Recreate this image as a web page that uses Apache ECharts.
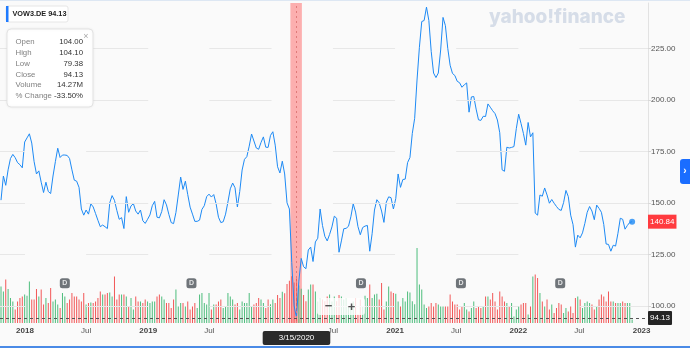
<!DOCTYPE html>
<html><head><meta charset="utf-8">
<script src="https://cdn.jsdelivr.net/npm/echarts@6/dist/echarts.min.js"></script>
<style>html,body{margin:0;padding:0;background:#fafafa;}#c{width:690px;height:348px;}</style>
</head><body><div id="c"></div>
<script>
// ---- DATA ----
const startWeek = '2017-10-22';   // weekly closes, one value per week
const closes = [151.3,163,158.5,166,171.5,173.5,171.9,169.5,168.5,167,
179.5,181.5,183.5,179,170,164,165.5,160,155,160,
155.5,154.5,163,170,176.5,172,173.2,173.2,173,171.5,
166,161,160.5,157.5,147,144,146.5,144.5,149.5,148,
144.8,141.5,138.4,139.2,138.4,137.5,150,153.5,151.2,146.3,
142,142.8,137.5,153,145.4,148.5,149.6,146,144.5,146.5,
141.3,140,142,144.1,148.6,150.7,143,142.7,145.8,151.5,
149,144.4,140.4,139.9,145.3,153.8,162.5,156.5,160.5,154,
147.9,144.5,141,141,141.6,146.8,148.6,153,154.2,152.8,
154,149.5,143,140.4,140.8,144.5,150.4,156.8,159.6,157.3,
148,155.5,165.9,171.1,172.4,177.5,183.4,180,176.6,176,
179.3,182,177,176.9,182.7,184.5,178,167.5,164.5,170.2,
164,150,147,121,100,94.13,112,123,119,118,
127.1,128.5,121.5,131,132.8,147,139,133.7,131.5,134.6,
138.3,143.5,142.5,126,131.5,137.4,137.6,138.6,143.2,149.5,
145.5,138.5,134.5,138,138.7,139,126.5,135,146.5,151.5,
150,146,140.5,150.3,152.9,152.5,147,152,164,157.5,
161.3,161.5,169.5,172,183.7,191,209.6,225.5,238,238.5,
245,238.5,223.5,213,210.8,213,224.2,240,236,225,
216.8,212.8,211.8,209,208.3,206.1,207.3,208.2,194,201.4,
201.6,195.5,190.3,190,192,191.9,198,196.4,194.7,193.3,
190.2,184,166,165.3,177,176.6,176.9,177.3,186,193,
188.5,183.7,178,189,182,184,145,144,153.8,153.2,
157.2,153.8,149.8,151.6,149.8,148.2,146.8,146.3,150.1,156,
153,144,139.4,128.5,134.3,133,135.4,140,145.4,148.2,
146,141.8,148.9,147.3,145.4,139.5,130,129.8,126.5,129.4,
129,135.2,142.5,142,137.2,139,140.5,140.84];
// weekly volume, millions
const volumes = [11.7,10.1,13.9,10.9,8.0,6.9,4.3,6.9,8.0,8.5,
9.1,8.7,13.3,7.5,7.5,10.9,8.5,10.7,5.9,8.0,
6.4,11.2,6.9,7.5,5.9,4.8,9.6,8.5,6.4,7.5,
9.6,8.5,8.5,7.5,6.9,9.6,5.9,6.4,6.6,6.4,
6.9,8.0,10.1,9.1,9.1,9.6,9.8,8.5,14.9,7.5,
9.1,9.1,9.1,8.5,5.3,8.0,4.3,8.5,6.9,6.9,
6.4,7.5,6.9,6.4,6.9,6.9,8.5,9.1,8.5,7.5,
6.4,6.4,4.8,7.5,10.7,5.3,6.4,6.4,5.3,6.9,
4.3,5.3,6.4,4.8,9.1,9.6,6.4,5.9,9.6,4.3,
5.9,5.9,6.9,7.5,4.8,5.3,9.6,8.5,7.5,5.9,
6.4,4.3,6.9,6.4,6.4,9.6,5.3,5.9,6.4,8.0,
7.5,6.4,4.8,7.5,
6.0,7.5,6.4,9.0,8.0,10.0,9.5,12.5,13.5,15.0,13.0,14.27,12.0,11.0,
9.0,7.0,10.7,12.3,12.3,10.1,6.9,8.0,7.5,7.0,8.5,9.1,6.9,8.5,7.0,9.0,
8.5,7.5,8.0,5.3,5.3,6.9,8.0,2.7,7.5,5.3,
8.7,8.0,12.3,8.0,9.1,9.4,7.5,12.8,4.3,6.9,
11.7,10.1,9.6,9.4,6.9,5.3,8.0,6.9,10.1,9.8,7.0,6.0,
24,12.3,10.7,5.9,4.8,5.3,6.4,5.3,6.4,
5.9,5.3,5.3,5.3,5.3,9.1,6.9,5.9,5.9,
4.3,5.3,6.4,4.3,3.7,4.8,6.9,4.8,5.3,4.8,
5.3,8.5,8.5,7.5,9.6,6.9,4.3,10.1,8.5,6.9,
6.4,5.3,6.4,2.1,4.3,5.3,5.9,6.4,6.4,2.7,
5.3,14.9,15.5,14.4,9.6,6.9,5.3,7.5,4.3,5.9,
3.2,4.8,6.4,5.9,3.2,4.8,3.7,5.3,3.2,8.0,
8.5,7.5,4.8,6.4,6.9,6.4,5.9,4.3,5.3,7.5,
9.1,8.5,6.9,10.1,6.9,6.9,6.4,6.4,6.4,6.9,
6.4,6.4,6.4,1.1];
const yTicks = [100,125,150,175,200,225];
const xLabelDates = ['2018-01-01','2018-07-01','2019-01-01','2019-07-01','2020-01-01','2020-07-01',
  '2021-01-01','2021-07-01','2022-01-01','2022-07-01','2023-01-01'];
const gridVisibleRanges = [['2017-10-19','2018-01-01'],['2018-07-01','2019-01-01'],['2019-07-01','2020-01-01'],
  ['2020-07-01','2021-01-01'],['2021-07-01','2022-01-01'],['2022-07-01','2023-01-20']];
const dividendDates = ['2018-04-29','2019-05-09','2020-09-22','2021-07-15','2022-05-05'];
const hoverDate = '2020-03-15';
const hoverLabel = '3/15/2020';
const hoverBand = ['2020-02-26','2020-03-31'];
const hoverClose = 94.13;
const lastClose = 140.84;
const symbolName = 'VOW3.DE';
const tooltipRows = [['Open','104.00'],['High','104.10'],['Low','79.38'],['Close','94.13'],['Volume','14.27M'],['% Change','-33.50%']];
const xRange = ['2017-10-19','2023-01-20'];

// ---- BUILD ----
const DAY = 864e5;
const ts = s => { const p = s.split('-').map(Number); return Date.UTC(p[0], p[1]-1, p[2]); };
const t0 = ts(startWeek);
const hoverTs = ts(hoverDate);
const dates = closes.map((_, i) => t0 + i * 7 * DAY);
const priceData = dates.map((d, i) => [d, closes[i]]);
const GREEN = '#4dbd7c', RED = '#f25757';
const volData = dates.map((d, i) => ({
  value: [d, volumes[i]],
  itemStyle: { color: (i === 0 || closes[i] >= closes[i-1]) ? GREEN : RED }
}));
const gridSegs = [];
yTicks.forEach(v => gridVisibleRanges.forEach(r => gridSegs.push([{coord:[ts(r[0]), v]}, {coord:[ts(r[1]), v]}])));
const FONT = 'Liberation Sans';

const graphics = [
  {type:'rect', shape:{x:0,y:0,width:690,height:1}, style:{fill:'#dde7f3'}, z:100},
  {type:'rect', shape:{x:0,y:346,width:690,height:2}, style:{fill:'#4a8ae6'}, z:100},
  {type:'text', x:489, y:8, style:{text:'yahoo!finance', font:'800 19px Inter', fill:'#d6dde8'}, z:90},
  {type:'rect', shape:{x:6,y:6,width:62,height:16,r:2}, style:{fill:'#fff', stroke:'#e6e6e6', lineWidth:1}, z:100},
  {type:'rect', shape:{x:6,y:6,width:2.5,height:16}, style:{fill:'#1f7bff'}, z:101},
  {type:'text', x:12.5, y:14, style:{text:symbolName + ' ' + hoverClose.toFixed(2), font:'bold 7.3px '+FONT, fill:'#222', verticalAlign:'middle'}, z:101},
  {type:'rect', shape:{x:7,y:29,width:86,height:78,r:4}, style:{fill:'#fff', stroke:'#e3e3e3', lineWidth:1, shadowBlur:3, shadowColor:'rgba(0,0,0,0.06)'}, z:100},
  {type:'text', x:86, y:36.5, style:{text:'×', font:'9px '+FONT, fill:'#aaa', align:'center', verticalAlign:'middle'}, z:101},
  {type:'rect', shape:{x:317,y:298,width:48,height:17,r:3}, style:{fill:'rgba(255,255,255,0.8)'}, z:100},
  {type:'text', x:328.5, y:306.5, style:{text:'−', font:'bold 13px '+FONT, fill:'#555', align:'center', verticalAlign:'middle'}, z:101},
  {type:'text', x:351.5, y:307, style:{text:'+', font:'bold 13px '+FONT, fill:'#555', align:'center', verticalAlign:'middle'}, z:101},
  {type:'rect', shape:{x:680,y:159,width:10,height:25,r:[3,0,0,3]}, style:{fill:'#1a6dff'}, z:100},
  {type:'text', x:685, y:171.5, style:{text:'›', font:'bold 10px '+FONT, fill:'#fff', align:'center', verticalAlign:'middle'}, z:101}
];
tooltipRows.forEach((r, i) => {
  const y = 42.3 + i * 10.7;
  graphics.push({type:'text', x:15.5, y:y, style:{text:r[0], font:'7.8px '+FONT, fill:'#808080', verticalAlign:'middle'}, z:101});
  graphics.push({type:'text', x:83, y:y, style:{text:r[1], font:'7.8px '+FONT, fill:'#333', align:'right', verticalAlign:'middle'}, z:101});
});

const chart = echarts.init(document.getElementById('c'));
chart.setOption({
  animation: false,
  backgroundColor: '#fafafa',
  grid: {left:0, right:42, top:3, bottom:25, containLabel:false},
  xAxis: {
    type:'value', min: ts(xRange[0]), max: ts(xRange[1]),
    axisLine:{show:false}, axisTick:{show:false}, splitLine:{show:false},
    axisLabel:{
      customValues: xLabelDates.map(ts), margin:4, fontFamily:FONT, fontSize:8,
      formatter: v => {
        if (Math.abs(v - hoverTs) < 100 * DAY) return '';   // hidden under the hover date box
        const d = new Date(v);
        return d.getUTCMonth() === 0 ? '{y|' + d.getUTCFullYear() + '}' : '{m|Jul}';
      },
      rich:{ y:{fontWeight:'bold', color:'#444', fontSize:8, fontFamily:FONT}, m:{color:'#555', fontSize:8, fontFamily:FONT} }
    }
  },
  yAxis: [{
    type:'value', position:'right', min:91.65, max:247.0,
    axisLine:{show:true, lineStyle:{color:'#e2e2e2'}},
    axisTick:{show:true, customValues: yTicks, length:3, lineStyle:{color:'#d8d8d8'}},
    splitLine:{show:false},
    axisLabel:{customValues: yTicks, formatter: v => Number(v).toFixed(2), color:'#555', fontSize:8, fontFamily:FONT, margin:3}
  }, {
    type:'value', min:0, max:102.4, show:false, splitLine:{show:false}
  }],
  graphic: graphics,
  series: [
    { type:'line', data: priceData, symbol:'none', silent:true, z:1, lineStyle:{opacity:0},
      markLine:{silent:true, symbol:'none', animation:false, label:{show:false},
        lineStyle:{color:'#e7e7e7', width:1, type:'solid'}, data: gridSegs} },
    { type:'bar', yAxisIndex:1, data: volData, barWidth:1, silent:true, z:2 },
    { type:'line', data: priceData, symbol:'none', silent:true, z:3,
      lineStyle:{color:'#1d8af5', width:1} },
    { type:'line', data: priceData, symbol:'none', silent:true, z:5, lineStyle:{opacity:0},
      markArea:{silent:true, itemStyle:{color:'rgba(255,85,85,0.45)'},
        data:[[{xAxis: ts(hoverBand[0])}, {xAxis: ts(hoverBand[1])}]]},
      markLine:{silent:true, symbol:'none', animation:false, data:[
        { yAxis: hoverClose, lineStyle:{color:'#555', width:1, type:[3,3]},
          label:{position:'end', formatter: hoverClose.toFixed(2), backgroundColor:'#252525', color:'#fff',
                 fontSize:8, fontFamily:FONT, padding:[3,2], distance:0, borderRadius:1} },
        { yAxis: lastClose, lineStyle:{color:'rgba(0,0,0,0)', width:0},
          label:{position:'end', formatter: lastClose.toFixed(2), backgroundColor:'#ff3b3f', color:'#fff',
                 fontSize:8, fontFamily:FONT, padding:[3,2], distance:0} },
        { xAxis: hoverTs, lineStyle:{color:'#e07a7a', width:1, type:[2,3]},
          label:{position:'start', formatter: hoverLabel, backgroundColor:'#2b2b2b', color:'#fff',
                 fontSize:8, fontFamily:FONT, padding:[3,16], distance:8, borderRadius:2} }
      ]}
    },
    { type:'scatter', data: [[dates[dates.length-1], closes[closes.length-1]]], symbol:'circle', symbolSize:6,
      itemStyle:{color:'#1d8af5'}, silent:true, z:6 },
    { type:'scatter', data: dividendDates.map(d => [ts(d), 110.9]), symbol:'roundRect', symbolSize:[10,10],
      itemStyle:{color:'#4c5259'}, silent:true, z:6,
      label:{show:true, position:'inside', formatter:'D', color:'#fff', fontSize:7, fontWeight:'bold', fontFamily:FONT} }
  ]
});
</script></body></html>
